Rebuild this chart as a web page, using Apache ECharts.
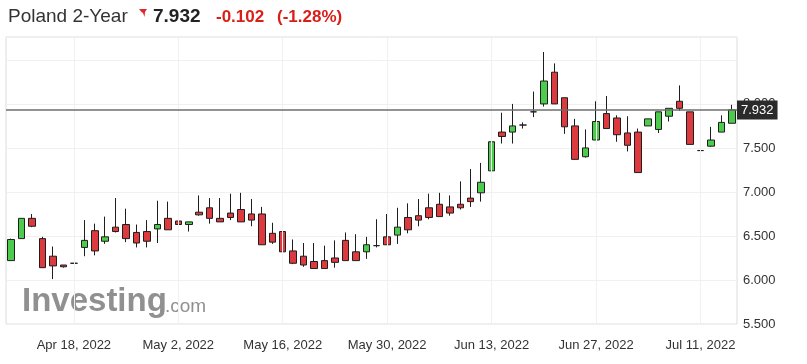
<!DOCTYPE html>
<html>
<head>
<meta charset="utf-8">
<script src="https://cdn.jsdelivr.net/npm/echarts@6/dist/echarts.min.js"></script>
<style>html,body{margin:0;padding:0;background:#fff}#c{width:807px;height:364px}</style>
</head>
<body>
<div id="c"></div>
<script>
var dates = [
 'Apr 8, 2022','Apr 11, 2022','Apr 12, 2022','Apr 13, 2022','Apr 14, 2022','Apr 15, 2022',
 'Apr 18, 2022','Apr 19, 2022','Apr 20, 2022','Apr 21, 2022','Apr 22, 2022',
 'Apr 25, 2022','Apr 26, 2022','Apr 27, 2022','Apr 28, 2022','Apr 29, 2022',
 'May 2, 2022','May 3, 2022','May 4, 2022','May 5, 2022','May 6, 2022',
 'May 9, 2022','May 10, 2022','May 11, 2022','May 12, 2022','May 13, 2022',
 'May 16, 2022','May 17, 2022','May 18, 2022','May 19, 2022','May 20, 2022',
 'May 23, 2022','May 24, 2022','May 25, 2022','May 26, 2022','May 27, 2022',
 'May 30, 2022','May 31, 2022','Jun 1, 2022','Jun 2, 2022','Jun 3, 2022',
 'Jun 6, 2022','Jun 7, 2022','Jun 8, 2022','Jun 9, 2022','Jun 10, 2022',
 'Jun 13, 2022','Jun 14, 2022','Jun 15, 2022','Jun 16, 2022','Jun 17, 2022',
 'Jun 20, 2022','Jun 21, 2022','Jun 22, 2022','Jun 23, 2022','Jun 24, 2022',
 'Jun 27, 2022','Jun 28, 2022','Jun 29, 2022','Jun 30, 2022','Jul 1, 2022',
 'Jul 4, 2022','Jul 5, 2022','Jul 6, 2022','Jul 7, 2022','Jul 8, 2022',
 'Jul 11, 2022','Jul 12, 2022','Jul 13, 2022','Jul 14, 2022'
];
var opens  = [6.22,6.47,6.70,6.47,6.27,6.17,6.19,6.37,6.56,6.44,6.60,6.63,6.54,6.55,6.58,6.70,6.67,6.63,6.77,6.82,
              6.70,6.76,6.80,6.75,6.75,6.53,6.55,6.33,6.27,6.21,6.22,6.25,6.45,6.32,6.32,6.39,6.49,6.51,6.71,6.73,
              6.82,6.86,6.83,6.86,6.93,6.99,7.24,7.68,7.68,7.76,7.91,8.00,8.36,8.07,7.75,7.40,7.59,7.89,7.84,7.67,
              7.68,7.75,7.71,7.86,8.03,7.91,7.47,7.52,7.68,7.78];
var closes = [6.46,6.70,6.61,6.14,6.16,6.15,6.19,6.45,6.33,6.49,6.55,6.47,6.42,6.44,6.63,6.57,6.63,6.66,6.74,6.70,
              6.66,6.71,6.66,6.68,6.40,6.43,6.32,6.19,6.17,6.13,6.13,6.20,6.22,6.22,6.40,6.39,6.40,6.60,6.57,6.68,
              6.71,6.72,6.76,6.82,6.89,7.11,7.57,7.63,7.75,7.76,7.91,8.26,8.00,7.74,7.37,7.50,7.80,7.72,7.65,7.53,
              7.22,7.83,7.91,7.95,7.95,7.54,7.47,7.59,7.79,7.932];
var lows   = [6.22,6.47,6.60,6.14,6.01,6.14,6.19,6.27,6.28,6.41,6.54,6.43,6.37,6.37,6.42,6.57,6.62,6.55,6.73,6.64,
              6.66,6.68,6.66,6.61,6.40,6.41,6.30,6.18,6.15,6.13,6.13,6.14,6.22,6.22,6.24,6.37,6.40,6.41,6.53,6.61,
              6.69,6.72,6.73,6.80,6.83,6.89,7.13,7.55,7.55,7.72,7.85,7.97,8.00,7.66,7.37,7.39,7.59,7.72,7.57,7.46,
              7.22,7.75,7.67,7.80,7.92,7.54,7.39,7.51,7.68,7.78];
var highs  = [6.47,6.70,6.75,6.49,6.38,6.17,6.19,6.68,6.64,6.72,6.93,6.81,6.63,6.68,6.90,6.89,6.88,6.66,6.96,6.93,
              6.93,6.98,6.99,6.92,6.83,6.65,6.62,6.46,6.42,6.42,6.39,6.45,6.54,6.52,6.49,6.69,6.75,6.82,6.87,6.92,
              6.98,6.99,6.96,7.12,7.26,7.33,7.78,7.90,8.00,7.79,8.14,8.59,8.46,8.07,7.83,7.71,8.03,8.09,7.87,7.86,
              7.72,7.83,7.91,7.95,8.21,7.91,7.47,7.74,7.87,7.99];
var lastValue = 7.932;
var gridDates = ['Apr 18, 2022','May 2, 2022','May 16, 2022','May 30, 2022','Jun 13, 2022','Jun 27, 2022','Jul 11, 2022'];
var yTicks = [5.5, 6.0, 6.5, 7.0, 7.5, 8.0];

var FONT = 'Liberation Sans, Arial, sans-serif';
var ohlc = dates.map(function (d, i) { return [opens[i], closes[i], lows[i], highs[i]]; });

var chart = echarts.init(document.getElementById('c'), null, {renderer: 'canvas'});
chart.setOption({
  animation: false,
  backgroundColor: '#fff',
  textStyle: {fontFamily: FONT},
  grid: {left: 6, right: 70, top: 37, bottom: 40, show: true, borderColor: '#dcdcdc', borderWidth: 1, backgroundColor: 'transparent'},
  xAxis: {
    type: 'category',
    data: dates,
    boundaryGap: true,
    axisLine: {show: false},
    axisTick: {show: false},
    splitLine: {show: false},
    axisLabel: {
      color: '#333', fontSize: 13, fontFamily: FONT, margin: 15,
      interval: function (idx, val) { return gridDates.indexOf(val) >= 0; }
    }
  },
  yAxis: {
    type: 'value',
    position: 'right',
    min: 5.5, max: 8.76, interval: 0.5,
    axisLine: {show: false},
    axisTick: {show: false},
    splitLine: {show: true, lineStyle: {color: '#f0f0f0', width: 1}},
    axisLabel: {
      color: '#333', fontSize: 13, fontFamily: FONT, margin: 6, showMaxLabel: false,
      formatter: function (v) {
        for (var i = 0; i < yTicks.length; i++) if (Math.abs(yTicks[i] - v) < 1e-6) return v.toFixed(3);
        return '';
      }
    }
  },
  series: [
    {
      type: 'line', data: [], silent: true, z: 1,
      markLine: {
        silent: true, symbol: 'none', label: {show: false},
        lineStyle: {color: '#f0f0f0', width: 1, type: 'solid'},
        data: gridDates.map(function (d) { return {xAxis: d}; })
      }
    },
    {
      type: 'candlestick',
      data: ohlc,
      barWidth: 7,
      z: 3,
      itemStyle: {
        color: '#4dcb4d', color0: '#dc3a3f',
        borderColor: '#1e1e1e', borderColor0: '#1e1e1e', borderWidth: 1
      },
      markLine: {
        silent: true, symbol: 'none',
        lineStyle: {color: '#6e6e6e', width: 1.5, type: 'solid'},
        label: {
          show: true, position: 'end', distance: 0,
          backgroundColor: '#2b2b2b', color: '#fff', fontSize: 13, fontFamily: FONT,
          padding: [3, 4, 3, 4],
          formatter: function () { return lastValue.toFixed(3); }
        },
        data: [{yAxis: lastValue}]
      }
    }
  ],
  graphic: [
    {type: 'text', left: 8, top: 7, style: {text: 'Poland 2-Year', fontSize: 19, fontFamily: FONT, fill: '#333'}},
    {type: 'polygon', shape: {points: [[139,9],[147,9],[145,12],[144.5,17],[143,13],[141.5,12]]}, style: {fill: '#e0262c'}},
    {type: 'text', left: 153, top: 7, style: {text: '7.932', fontSize: 19, fontWeight: 'bold', fontFamily: FONT, fill: '#222'}},
    {type: 'text', left: 216, top: 9, style: {text: '-0.102', fontSize: 17, fontWeight: 'bold', fontFamily: FONT, fill: '#d91e18'}},
    {type: 'text', left: 277, top: 9, style: {text: '(-1.28%)', fontSize: 17, fontWeight: 'bold', fontFamily: FONT, fill: '#d91e18'}},
    {type: 'text', left: 22, top: 285, z: 0, style: {text: 'Investing', fontSize: 33, fontWeight: 'bold', fontFamily: FONT, fill: 'rgba(125,125,125,0.85)'}},
    {type: 'text', left: 165, top: 297, z: 0, style: {text: '.com', fontSize: 19, fontFamily: FONT, fill: 'rgba(125,125,125,0.85)'}}
  ]
});
</script>
</body>
</html>
